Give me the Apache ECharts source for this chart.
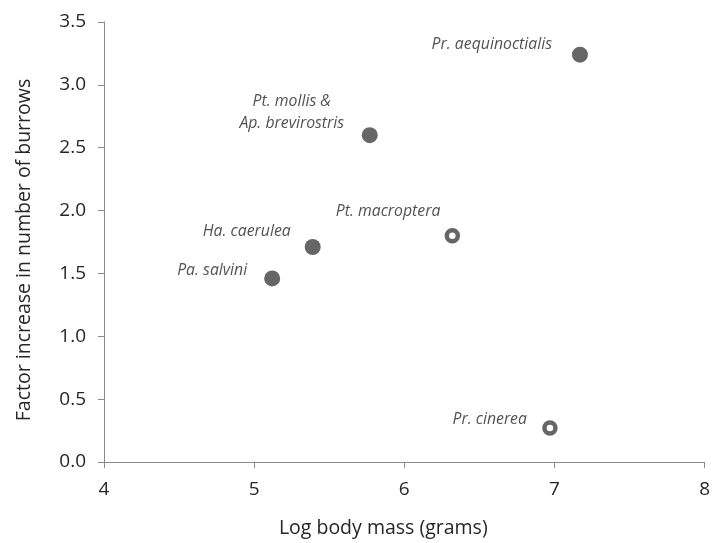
<!DOCTYPE html>
<html>
<head>
<meta charset="utf-8">
<script src="https://cdn.jsdelivr.net/npm/echarts@6/dist/echarts.min.js"></script>
<style>
  html, body { margin: 0; padding: 0; background: #fff; }
  #chart { width: 713px; height: 543px; }
</style>
</head>
<body>
<div id="chart"></div>
<script>
// Species names, log body mass (x) and factor increase in burrows (y)
const filledNames = ['Pa. salvini', 'Ha. caerulea', 'Pt. mollis &\nAp. brevirostris', 'Pr. aequinoctialis'];
const filledMass = [5.12, 5.39, 5.77, 7.17];
const filledFactor = [1.46, 1.71, 2.60, 3.24];

const openNames = ['Pt. macroptera', 'Pr. cinerea'];
const openMass = [6.32, 6.97];
const openFactor = [1.80, 0.27];

// Label placement per species (text anchor relative to marker centre)
const labelStyle = {
  'Pa. salvini': { align: 'right', offset: [-25, -8] },
  'Ha. caerulea': { align: 'right', offset: [-22, -16] },
  'Pt. mollis &\nAp. brevirostris': { align: 'center', offset: [-78, -23] },
  'Pr. aequinoctialis': { align: 'right', offset: [-28, -10] },
  'Pt. macroptera': { align: 'right', offset: [-12, -24] },
  'Pr. cinerea': { align: 'right', offset: [-23, -9] }
};

const FONT = '"Open Sans"';
const DARK = '#404040';
const TEXT = '#262626';
const AXIS = '#8a8a8a';

function buildPoints(names, xs, ys) {
  return names.map((n, i) => ({
    name: n,
    value: [xs[i], ys[i]],
    label: {
      show: true,
      position: 'inside',
      align: labelStyle[n].align,
      verticalAlign: 'middle',
      offset: labelStyle[n].offset
    }
  }));
}

const labelBase = {
  formatter: p => p.name,
  fontFamily: FONT,
  fontStyle: 'italic',
  fontSize: 15.8,
  lineHeight: 22,
  color: TEXT
};

const chart = echarts.init(document.getElementById('chart'), null, { renderer: 'canvas' });
chart.setOption({
  animation: false,
  backgroundColor: '#ffffff',
  grid: { left: 104, right: 8, top: 22, bottom: 78, containLabel: false },
  xAxis: {
    type: 'value',
    min: 4, max: 8, interval: 1,
    name: 'Log body mass (grams)',
    nameLocation: 'middle',
    nameGap: 56,
    nameTextStyle: { fontFamily: FONT, fontSize: 19.5, color: TEXT, padding: [0, 42, 0, 0] },
    axisLine: { show: true, lineStyle: { color: AXIS, width: 1 } },
    axisTick: { show: true, length: 6, lineStyle: { color: AXIS } },
    axisLabel: { fontFamily: FONT, fontSize: 19, color: TEXT, margin: 18 },
    splitLine: { show: false }
  },
  yAxis: {
    type: 'value',
    min: 0, max: 3.5, interval: 0.5,
    name: 'Factor increase in number of burrows',
    nameLocation: 'middle',
    nameGap: 70,
    nameTextStyle: { fontFamily: FONT, fontSize: 19.5, color: TEXT, padding: [0, 16, 0, 0] },
    axisLine: { show: true, lineStyle: { color: AXIS, width: 1 } },
    axisTick: { show: true, length: 6, lineStyle: { color: AXIS } },
    axisLabel: {
      fontFamily: FONT, fontSize: 19, color: TEXT, margin: 18,
      formatter: v => v.toFixed(1)
    },
    splitLine: { show: false }
  },
  series: [
    {
      type: 'scatter',
      symbol: 'circle',
      symbolSize: 16,
      itemStyle: { color: DARK },
      label: labelBase,
      data: buildPoints(filledNames, filledMass, filledFactor)
    },
    {
      type: 'scatter',
      symbol: 'circle',
      symbolSize: 11,
      itemStyle: { color: '#ffffff', borderColor: DARK, borderWidth: 4.5 },
      label: labelBase,
      data: buildPoints(openNames, openMass, openFactor)
    }
  ]
});
</script>
</body>
</html>
